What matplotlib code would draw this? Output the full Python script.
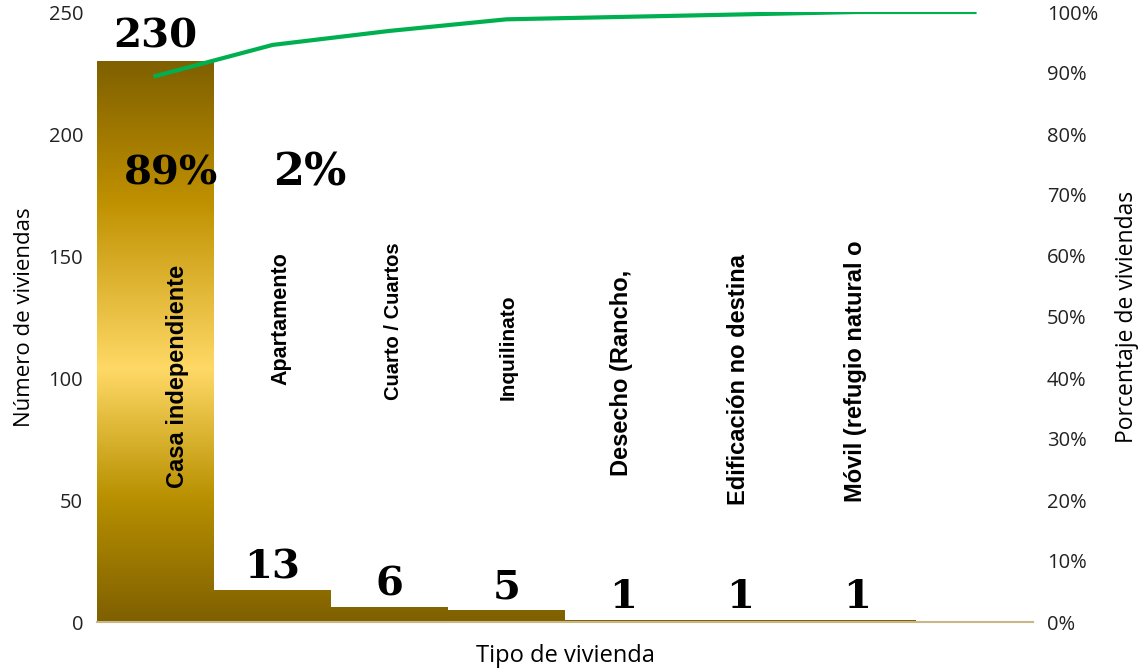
import matplotlib
matplotlib.use("Agg")
import matplotlib.pyplot as plt
import numpy as np
from matplotlib.colors import LinearSegmentedColormap
from matplotlib.ticker import FuncFormatter

categories = ["Casa independiente", "Apartamento", "Cuarto / Cuartos", "Inquilinato",
              "Desecho (Rancho,", "Edificación no destina", "Móvil (refugio natural o", ""]
counts = [230, 13, 6, 5, 1, 1, 1, 0]
cum_pct = [89.5, 94.6, 96.9, 98.8, 99.2, 99.6, 100, 100]
pct_labels = ["89%", "2%"]
# label layout (category label bottom in data units, x-offset in category units, size)
label_bottom = [55, 97, 91, 91, 60, 48, 49, 0]
label_dx = [0.19, 0.07, 0.03, 0.01, -0.02, -0.02, -0.02, 0]
label_size = [17, 15.5, 14.5, 15, 17, 17, 17, 14]

fig = plt.figure(figsize=(11.46, 6.69), dpi=100)
ax = fig.add_axes([97/1146, 47/669, 936/1146, 610/669])
ax2 = ax.twinx()

n = len(categories)
x = np.arange(n)
ax.set_xlim(-0.5, n - 0.5)
ax.set_ylim(0, 250)
ax2.set_ylim(0, 100)

cmap = LinearSegmentedColormap.from_list(
    "gold", [(0.0, "#7f6000"), (0.22, "#b89000"), (0.45, "#ffd966"),
             (0.75, "#bf9000"), (1.0, "#7f6000")])
grad = np.linspace(0, 1, 256).reshape(-1, 1)

bars = ax.bar(x, counts, width=1.0, color="none", edgecolor="none", zorder=2)
for b in bars:
    if b.get_height() <= 0:
        continue
    im = ax.imshow(grad, cmap=cmap, aspect="auto", origin="lower",
                   extent=(b.get_x(), b.get_x() + b.get_width(), 0, 230), zorder=2)
    im.set_clip_path(b)

ax2.plot(x, cum_pct, color="#00b050", lw=3, solid_joinstyle="miter", zorder=3)

serif = dict(family="DejaVu Serif", fontweight="heavy", color="black", fontsize=29)
for i, v in enumerate(counts[:7]):
    if i == 0:
        ax.text(i, v + 2, str(v), ha="center", va="bottom", **serif, zorder=5)
    else:
        ax.text(i, v + 1.5, str(v), ha="center", va="bottom", **serif, zorder=5)
ax.text(0.13, 184, pct_labels[0], ha="center", va="center", **serif, zorder=5)
ax.text(1.32, 184, pct_labels[1], ha="center", va="center",
        **{**serif, "fontsize": 32}, zorder=5)

for i, lab in enumerate(categories):
    if not lab:
        continue
    ax.text(i + label_dx[i], label_bottom[i], lab, rotation=90, ha="center", va="bottom",
            family="Liberation Sans", fontweight="bold", fontsize=label_size[i], zorder=5)

for a in (ax, ax2):
    for s in a.spines.values():
        s.set_visible(False)
ax.spines["bottom"].set_visible(True)
ax.spines["bottom"].set_color("#c8b888")
ax.spines["bottom"].set_linewidth(1.5)

ax.set_xticks([])
ax.set_yticks([0, 50, 100, 150, 200, 250])
ax2.set_yticks(np.arange(0, 101, 10))
ax2.yaxis.set_major_formatter(FuncFormatter(lambda v, p: f"{int(v)}%"))
ax.tick_params(axis="y", length=0, pad=10, labelsize=14.5, labelcolor="#222222")
ax2.tick_params(axis="y", length=0, pad=10, labelsize=14.5, labelcolor="#222222")
for t in ax.get_yticklabels() + ax2.get_yticklabels():
    t.set_family("Open Sans")

ax.set_ylabel("Número de viviendas", family="Open Sans", fontsize=16, labelpad=10)
ax2.set_ylabel("Porcentaje de viviendas", family="Open Sans", fontsize=16.5, labelpad=12)
ax.set_xlabel("Tipo de vivienda", family="Open Sans", fontsize=17, labelpad=16)

fig.savefig("out.png", dpi=100)
